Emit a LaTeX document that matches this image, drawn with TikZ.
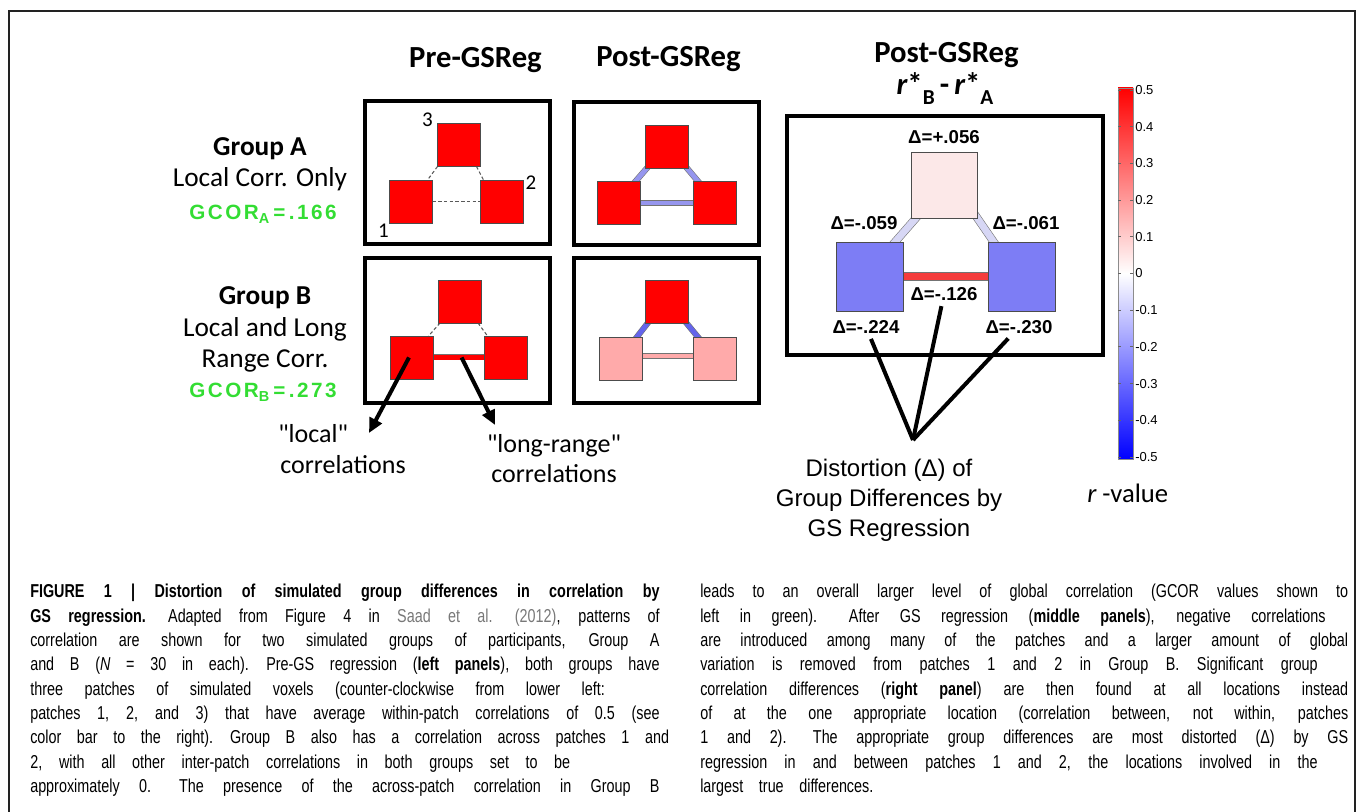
\documentclass[tikz,border=0pt]{standalone}
\usepackage{fontspec}
\setmainfont{Liberation Sans}
\newfontfamily\calf{Carlito}
\newfontfamily\capf[FakeStretch=0.77,WordSpace={3.9,4,0}]{Liberation Sans}
\newfontfamily\gcorf[LetterSpace=12]{Liberation Sans}
\usetikzlibrary{arrows.meta,calc,backgrounds}
\definecolor{gcgreen}{RGB}{51,221,51}
\definecolor{barA}{RGB}{150,150,238}
\definecolor{barB}{RGB}{100,100,235}
\definecolor{pinkB}{RGB}{255,170,170}
\definecolor{dblue}{RGB}{125,125,245}
\definecolor{dtop}{RGB}{252,232,232}
\definecolor{dbar}{RGB}{215,215,245}
\definecolor{dred}{RGB}{245,60,60}
\definecolor{framec}{RGB}{34,34,34}
\definecolor{citegray}{RGB}{120,120,120}
\newlength\capwl
\setlength\capwl{472pt}
\newlength\capwr
\setlength\capwr{486pt}
\newcommand\jl[1]{\makebox[\capwl][s]{#1}}
\newcommand\jr[1]{\makebox[\capwr][s]{#1}}
\newcommand\jw[2]{\makebox[#1][s]{#2}}
\begin{document}
\begin{tikzpicture}[x=0.75pt,y=-0.75pt,
 ttl/.style={inner sep=0pt, anchor=base, font=\calf\bfseries\fontsize{23}{27}\selectfont},
 grp/.style={inner sep=0pt, anchor=base, font=\calf\fontsize{20.5}{24}\selectfont},
 gcor/.style={inner sep=0pt, anchor=base, text=gcgreen, font=\gcorf\bfseries\fontsize{15.5}{18}\selectfont},
 numl/.style={inner sep=0pt, anchor=base, font=\calf\fontsize{15.75}{18}\selectfont},
 ann/.style={inner sep=0pt, anchor=base west, font=\calf\fontsize{19.5}{23}\selectfont},
 annc/.style={inner sep=0pt, anchor=base, font=\calf\fontsize{19.5}{23}\selectfont},
 sq/.style={draw=black!70, line width=0.6pt, minimum size=32.25pt, inner sep=0pt, outer sep=0pt},
 bigsq/.style={draw=black!70, line width=0.6pt, minimum width=50.25pt, minimum height=51.75pt, inner sep=0pt, outer sep=0pt},
 panel/.style={draw=black, line width=2.6pt},
 dashc/.style={draw=black!65, line width=0.8pt, dash pattern=on 2.5pt off 1.8pt},
 corrbar/.style={draw=black!55, line width=0.45pt, double distance=#1},
 arrowc/.style={draw=black, line width=3pt, -{Triangle[length=11pt,width=10pt]}},
 dlab/.style={inner sep=2pt, font=\bfseries\fontsize{14}{16}\selectfont},
 distl/.style={draw=black, line width=3pt, shorten <=2pt},
 distt/.style={inner sep=0pt, anchor=base, font=\fontsize{18}{21}\selectfont},
 cbl/.style={inner sep=0pt, anchor=west, font=\fontsize{9.75}{11}\selectfont},
 cbtick/.style={draw=black!60, line width=0.6pt},
 capt/.style={inner sep=0pt, anchor=base west, font=\capf\fontsize{14}{17}\selectfont},
]
\useasboundingbox (0,0) rectangle (1357,812);
\draw[framec, line width=1.5pt] (9,812) -- (9,11) -- (1355,11) -- (1355,812);

% titles
\node[ttl] (tpre) at (475.5,68) {Pre-GSReg};
\node[ttl] (tpost) at (668.5,67) {Post-GSReg};
\node[ttl] (tdiff) at (946.5,63) {Post-GSReg};
\node[ttl] (rdiff) at (945,95) {\itshape r\upshape*\raisebox{-0.3em}{\fontsize{16}{16}\selectfont B}\,-\,\itshape r\upshape*\raisebox{-0.3em}{\fontsize{16}{16}\selectfont A}};

% group labels
\node[grp] (ga) at (260,156) {\bfseries Group A};
\node[grp] (gad) at (260,187) {Local Corr. Only};
\node[gcor] (gcA) at (263,220) {GCOR\textsubscript{A}\,=\,.166};
\node[grp] (gb) at (265,305) {\bfseries Group B};
\node[grp] (gbd1) at (265,337) {Local and Long};
\node[grp] (gbd2) at (265,368) {Range Corr.};
\node[gcor] (gcB) at (263,398) {GCOR\textsubscript{B}\,=\,.273};

% panels
\draw[panel] (365,101) rectangle (550,244);
\draw[panel] (365,258) rectangle (550,403);
\draw[panel] (574,102) rectangle (759,245);
\draw[panel] (574,258) rectangle (759,403);
\draw[panel] (787,116) rectangle (1103,355);

% squares pre-A
\node[sq, fill=red] (pa3) at (459,145) {};
\node[sq, fill=red] (pa1) at (411,201.5) {};
\node[sq, fill=red] (pa2) at (502,201.5) {};
% pre-B
\node[sq, fill=red] (pb3) at (459.5,301.5) {};
\node[sq, fill=red] (pb1) at (412,357.5) {};
\node[sq, fill=red] (pb2) at (506,357.5) {};
% post-A
\node[sq, fill=red] (qa3) at (667,146.5) {};
\node[sq, fill=red] (qa1) at (619,203) {};
\node[sq, fill=red] (qa2) at (714.5,203) {};
% post-B
\node[sq, fill=red] (qb3) at (667,302) {};
\node[sq, fill=pinkB] (qb1) at (620.5,359) {};
\node[sq, fill=pinkB] (qb2) at (714.5,359) {};
% right panel
\node[bigsq, fill=dtop, minimum width=49.5pt, minimum height=49.5pt] (rt) at (944.5,185) {};
\node[bigsq, fill=dblue] (rl) at (869.5,276.5) {};
\node[bigsq, fill=dblue] (rr) at (1021.5,276.5) {};

% patch numbers
\node[numl] (n3) at (427.5,127) {3};
\node[numl] (n2) at (531,190) {2};
\node[numl] (n1) at (383.5,238) {1};

\begin{pgfonlayer}{background}
% pre-A
\draw[dashc] (pa1) -- (pa2);
\draw[dashc] (pa3.south west) -- ($(pa1.north east)+(-5,0)$);
\draw[dashc] ($(pa3.south east)+(-4,0)$) -- ($(pa2.north west)+(3,0)$);
% pre-B
\draw[dashc] ($(pb3.south west)+(2,0)$) -- ($(pb1.north east)+(-5,0)$);
\draw[dashc] ($(pb3.south east)+(-3,0)$) -- ($(pb2.north west)+(3,0)$);
\draw[corrbar=3.6pt, double=red] (pb1) -- (pb2);
% post-A
\draw[corrbar=3.6pt, double=barA] (qa1) -- (qa2);
\draw[corrbar=3.6pt, double=barA] ($(qa3.south west)+(5,-4)$) -- ($(qa1.north east)+(-9,4.5)$);
\draw[corrbar=3.6pt, double=barA] ($(qa3.south east)+(-5,-4)$) -- ($(qa2.north west)+(9,4.5)$);
% post-B
\draw[corrbar=3.6pt, double=pinkB] ($(qb1.east)+(0,-3)$) -- ($(qb2.west)+(0,-3)$);
\draw[corrbar=3.6pt, double=barB] ($(qb3.south west)+(5,-4)$) -- ($(qb1.north east)+(-9,4.5)$);
\draw[corrbar=3.6pt, double=barB] ($(qb3.south east)+(-5,-4)$) -- ($(qb2.north west)+(9,4.5)$);
% right panel
\draw[corrbar=5.2pt, double=dred] (rl) -- (rr);
\draw[corrbar=5.2pt, double=dbar] ($(rt.south west)+(8,-4)$) -- ($(rl.north east)+(-11.5,4)$);
\draw[corrbar=5.2pt, double=dbar] ($(rt.south east)+(-3,-4)$) -- ($(rr.north west)+(8.5,4)$);
\end{pgfonlayer}

% arrows and annotation
\coordinate (arrL) at (369,433);
\coordinate (arrR) at (495,425);
\draw[arrowc] ($(pb1.center)+(-3,0)$) -- (arrL);
\draw[arrowc] ($(pb1.east)!0.55!(pb2.west)$) -- (arrR);
\node[ann] (loc1) at (278,443) {"local"};
\node[ann] (loc2) at (280,474) {correlations};
\node[annc] (lr1) at (554,453) {"long-range"};
\node[annc] (lr2) at (554,483) {correlations};

% delta labels
\node[dlab] (d056) at (944,137) {Δ=+.056};
\node[dlab] (d059) at (864,223) {Δ=-.059};
\node[dlab] (d061) at (1026,223) {Δ=-.061};
\node[dlab] (d126) at (944,294) {Δ=-.126};
\node[dlab] (d224) at (866,327) {Δ=-.224};
\node[dlab] (d230) at (1019,327) {Δ=-.230};

\coordinate (conv) at (913,440);
\draw[distl] (d224) -- (conv);
\draw[distl] (d126) -- (conv);
\draw[distl] (d230) -- (conv);
\node[distt] (dt1) at (889,477) {Distortion (Δ) of};
\node[distt] (dt2) at (889,507) {Group Differences by};
\node[distt] (dt3) at (889,537) {GS Regression};

% colour bar
\shade[top color=red, bottom color=white] (1118,88) rectangle (1133,273.5);
\shade[top color=white, bottom color=blue] (1118,273.5) rectangle (1133,459);
\draw[black!45, line width=0.4pt] (1118,88) rectangle (1133,459);
\foreach \v [count=\i from 0] in {0.5,0.4,0.3,0.2,0.1,0,-0.1,-0.2,-0.3,-0.4,-0.5} {
  \node[cbl] (cb\i) at (1135,{90+\i*36.7}) {\v};
  \draw[cbtick] (1118,{90+\i*36.7}) -- ++(3,0);
  \draw[cbtick] (1133,{90+\i*36.7}) -- ++(-3,0);
}
\node[inner sep=0pt, anchor=base west, font=\calf\fontsize{20}{24}\selectfont] (rval) at (1087,503) {\itshape r\upshape\ -value};

% caption left column
\node[capt] (c1) at (30,598.0) {\jl{\bfseries FIGURE 1 | Distortion of simulated group differences in correlation by}};
\node[capt] (c2) at (30,622.3) {\jl{\textbf{GS regression.} Adapted from Figure 4 in \textcolor{citegray}{Saad et al. (2012)}, patterns of}};
\node[capt] (c3) at (30,646.6) {\jl{correlation are shown for two simulated groups of participants, Group A}};
\node[capt] (c4) at (30,670.9) {\jl{and B ({\itshape N} = 30 in each). Pre-GS regression (\textbf{left panels}), both groups have}};
\node[capt] (c5) at (30,695.2) {\jw{431pt}{three patches of simulated voxels (counter-clockwise from lower left:}};
\node[capt] (c6) at (30,719.5) {\jl{patches 1, 2, and 3) that have average within-patch correlations of 0.5 (see}};
\node[capt] (c7) at (30,743.8) {\jl{color bar to the right). Group B also has a correlation across patches 1 and}};
\node[capt] (c8) at (30,768.1) {\jw{405pt}{2, with all other inter-patch correlations in both groups set to be}};
\node[capt] (c9) at (30,792.4) {\jl{approximately 0. The presence of the across-patch correlation in Group B}};
% caption right column
\node[capt] (r1) at (700,598.0) {\jr{leads to an overall larger level of global correlation (GCOR values shown to}};
\node[capt] (r2) at (700,622.3) {\jw{469pt}{left in green). After GS regression (\textbf{middle panels}), negative correlations}};
\node[capt] (r3) at (700,646.6) {\jr{are introduced among many of the patches and a larger amount of global}};
\node[capt] (r4) at (700,670.9) {\jw{463pt}{variation is removed from patches 1 and 2 in Group B. Significant group}};
\node[capt] (r5) at (700,695.2) {\jr{correlation differences (\textbf{right panel}) are then found at all locations instead}};
\node[capt] (r6) at (700,719.5) {\jr{of at the one appropriate location (correlation between, not within, patches}};
\node[capt] (r7) at (700,743.8) {\jr{1 and 2). The appropriate group differences are most distorted (Δ) by GS}};
\node[capt] (r8) at (700,768.1) {\jw{463pt}{regression in and between patches 1 and 2, the locations involved in the}};
\node[capt] (r9) at (700,792.4) {largest true differences.};
\end{tikzpicture}
\end{document}
